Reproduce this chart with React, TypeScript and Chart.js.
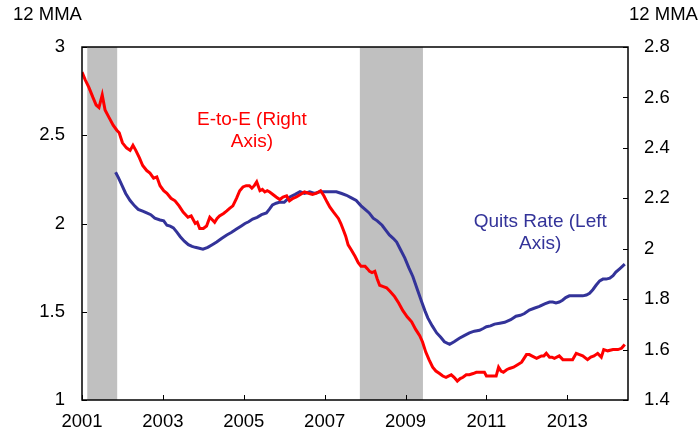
import React, { useEffect, useRef } from "react";
import { Chart, registerables } from "chart.js";

Chart.register(...registerables);

// ---- Data ----
const eteYears = [
  2001.0, 2001.08, 2001.17, 2001.27, 2001.35, 2001.42, 2001.5, 2001.57, 2001.67, 2001.77, 2001.86, 2001.92,
  2002.0, 2002.1, 2002.19, 2002.26, 2002.33, 2002.42, 2002.5, 2002.6, 2002.68, 2002.77, 2002.85, 2002.93,
  2003.02, 2003.1, 2003.2, 2003.3, 2003.4, 2003.5, 2003.62, 2003.7, 2003.8, 2003.85, 2003.91,
  2004.0, 2004.08, 2004.16, 2004.22, 2004.28, 2004.34, 2004.4, 2004.5, 2004.58, 2004.65, 2004.73, 2004.82, 2004.9, 2004.98,
  2005.06, 2005.14, 2005.2, 2005.26, 2005.32, 2005.4, 2005.46, 2005.52, 2005.58, 2005.64, 2005.72, 2005.8, 2005.89, 2005.97,
  2006.06, 2006.13, 2006.22, 2006.3, 2006.4, 2006.5, 2006.6, 2006.7, 2006.8, 2006.9, 2006.98,
  2007.06, 2007.13, 2007.22, 2007.34, 2007.4, 2007.46, 2007.52, 2007.58, 2007.66, 2007.75, 2007.83, 2007.9,
  2008.0, 2008.06, 2008.11, 2008.17, 2008.24, 2008.3, 2008.36, 2008.45, 2008.53, 2008.62, 2008.73, 2008.83, 2008.93,
  2009.04, 2009.15, 2009.25, 2009.35, 2009.42, 2009.5, 2009.58, 2009.67, 2009.75, 2009.84, 2009.92,
  2010.0, 2010.06, 2010.13, 2010.2, 2010.28, 2010.35, 2010.42, 2010.5, 2010.58, 2010.67, 2010.75, 2010.85, 2010.95,
  2011.0, 2011.1, 2011.24, 2011.3, 2011.36, 2011.42, 2011.5, 2011.57, 2011.67, 2011.77, 2011.87, 2011.93, 2011.99,
  2012.06, 2012.12, 2012.24, 2012.3, 2012.36, 2012.42, 2012.48, 2012.56, 2012.62, 2012.68, 2012.8, 2012.89,
  2013.0, 2013.13, 2013.22, 2013.3, 2013.38, 2013.5, 2013.58, 2013.66, 2013.75, 2013.84, 2013.9,
  2014.0, 2014.13, 2014.25, 2014.34, 2014.42,
];
const eteValues = [
  2.7, 2.67, 2.64, 2.6, 2.57, 2.56, 2.61, 2.55, 2.52, 2.49, 2.47, 2.46,
  2.42, 2.4, 2.39, 2.41, 2.39, 2.36, 2.33, 2.31, 2.3, 2.28, 2.285, 2.25,
  2.23, 2.22, 2.2, 2.19, 2.17, 2.145, 2.125, 2.13, 2.1, 2.105, 2.08,
  2.08, 2.09, 2.125, 2.115, 2.105, 2.12, 2.13, 2.14, 2.15, 2.16, 2.17, 2.2, 2.23, 2.245,
  2.25, 2.25, 2.24, 2.25, 2.265, 2.23, 2.235, 2.225, 2.23, 2.225, 2.215, 2.205, 2.195, 2.205,
  2.21, 2.19, 2.2, 2.205, 2.215, 2.225, 2.22, 2.215, 2.22, 2.23, 2.21,
  2.185, 2.165, 2.145, 2.12, 2.1, 2.075, 2.05, 2.015, 1.995, 1.97, 1.945, 1.93,
  1.93, 1.92, 1.91, 1.905, 1.91, 1.88, 1.855, 1.85, 1.845, 1.83, 1.81, 1.785, 1.755,
  1.73, 1.71, 1.68, 1.655, 1.63, 1.59, 1.56, 1.53, 1.515, 1.505, 1.495,
  1.49, 1.495, 1.5, 1.49, 1.475, 1.485, 1.49, 1.5, 1.5, 1.505, 1.51, 1.51, 1.51,
  1.495, 1.495, 1.495, 1.53, 1.515, 1.51, 1.52, 1.525, 1.53, 1.54, 1.55, 1.565, 1.58,
  1.58, 1.575, 1.565, 1.57, 1.575, 1.575, 1.585, 1.57, 1.57, 1.565, 1.575, 1.56,
  1.56, 1.56, 1.585, 1.58, 1.575, 1.56, 1.57, 1.575, 1.585, 1.57, 1.6,
  1.595, 1.6, 1.6, 1.605, 1.62,
];

const quitsYears = [
  2001.83, 2001.9, 2001.98, 2002.08, 2002.19, 2002.3, 2002.39, 2002.5, 2002.6, 2002.7, 2002.8, 2002.93,
  2003.02, 2003.1, 2003.18, 2003.26, 2003.35, 2003.43, 2003.53, 2003.63, 2003.72, 2003.8, 2003.9, 2003.99,
  2004.11, 2004.22, 2004.33, 2004.45, 2004.58, 2004.7, 2004.83, 2004.93,
  2005.03, 2005.12, 2005.22, 2005.33, 2005.44, 2005.56, 2005.63, 2005.71, 2005.8, 2005.88,
  2006.0, 2006.07, 2006.14, 2006.27, 2006.39, 2006.5, 2006.63, 2006.75, 2006.88,
  2007.0, 2007.15, 2007.29, 2007.42, 2007.54, 2007.66, 2007.78, 2007.9,
  2008.0, 2008.1, 2008.2, 2008.3, 2008.42, 2008.5, 2008.6, 2008.7, 2008.78, 2008.88, 2008.98,
  2009.08, 2009.18, 2009.3, 2009.4, 2009.48, 2009.55, 2009.66, 2009.77, 2009.87, 2009.96,
  2010.09, 2010.2, 2010.33, 2010.45, 2010.58, 2010.7, 2010.83, 2010.92,
  2011.0, 2011.1, 2011.2, 2011.33, 2011.45, 2011.6, 2011.73, 2011.84, 2011.94,
  2012.06, 2012.18, 2012.31, 2012.44, 2012.56, 2012.64, 2012.72, 2012.8, 2012.88, 2012.96,
  2013.05, 2013.2, 2013.38, 2013.47, 2013.55, 2013.63, 2013.71, 2013.8, 2013.88, 2013.96,
  2014.05, 2014.13, 2014.2, 2014.3, 2014.42,
];
const quitsValues = [
  2.29, 2.26, 2.22, 2.17, 2.13, 2.1, 2.08, 2.07, 2.06, 2.05, 2.03, 2.02,
  2.015, 1.99, 1.985, 1.975, 1.95, 1.925, 1.9, 1.88, 1.87, 1.865, 1.86, 1.855,
  1.865, 1.88, 1.895, 1.915, 1.935, 1.95, 1.97, 1.985,
  2.0, 2.01, 2.025, 2.035, 2.05, 2.06, 2.08, 2.105, 2.115, 2.12,
  2.12, 2.135, 2.15, 2.165, 2.18, 2.17, 2.18, 2.17, 2.18,
  2.18, 2.18, 2.18, 2.17, 2.16, 2.145, 2.13, 2.1,
  2.08, 2.06, 2.03, 2.015, 1.99, 1.965, 1.935, 1.915, 1.895, 1.85, 1.805,
  1.75, 1.7, 1.62, 1.555, 1.505, 1.465, 1.42, 1.38, 1.355, 1.33,
  1.315, 1.33, 1.35, 1.365, 1.38, 1.39, 1.395, 1.405,
  1.415, 1.42, 1.43, 1.435, 1.44, 1.455, 1.475, 1.48, 1.49,
  1.51, 1.52, 1.53, 1.545, 1.555, 1.555, 1.55, 1.555, 1.565, 1.58,
  1.59, 1.59, 1.59, 1.595, 1.605, 1.625, 1.65, 1.675, 1.685, 1.685,
  1.69, 1.705, 1.725, 1.745, 1.77,
];

const recessionStarts = [2001.13, 2007.87];
const recessionEnds = [2001.87, 2009.43];

const xTicks = [2001, 2003, 2005, 2007, 2009, 2011, 2013];
const leftTicks = [1, 1.5, 2, 2.5, 3];
const rightTicks = [1.4, 1.6, 1.8, 2, 2.2, 2.4, 2.6, 2.8];

const eteLabel = ["E-to-E (Right", "Axis)"];
const quitsLabel = ["Quits Rate (Left", "Axis)"];
const unitLabel = "12 MMA";

const RED = "#FF0000";
const BLUE = "#333399";
const FONT = "'Liberation Sans', Arial, sans-serif";

const fmt = (v: number) => String(Number(v.toFixed(1)));

const framePlugin = {
  id: "frame",
  beforeDatasetsDraw(chart: any) {
    const { ctx, chartArea, scales } = chart;
    const x = scales.x;
    ctx.save();
    ctx.fillStyle = "#C0C0C0";
    for (let i = 0; i < recessionStarts.length; i++) {
      const a = x.getPixelForValue(recessionStarts[i]);
      const b = x.getPixelForValue(recessionEnds[i]);
      ctx.fillRect(a, chartArea.top, b - a, chartArea.bottom - chartArea.top);
    }
    ctx.restore();
  },
  afterDatasetsDraw(chart: any) {
    const { ctx, chartArea, scales } = chart;
    const { left, right, top, bottom } = chartArea;
    ctx.save();
    // tick marks (inward)
    ctx.strokeStyle = "#000";
    ctx.lineWidth = 1;
    const tl = 5;
    ctx.beginPath();
    xTicks.forEach((v) => {
      const px = Math.round(scales.x.getPixelForValue(v)) + 0.5;
      ctx.moveTo(px, bottom);
      ctx.lineTo(px, bottom - tl);
    });
    leftTicks.forEach((v) => {
      const py = Math.round(scales.yL.getPixelForValue(v)) + 0.5;
      ctx.moveTo(left, py);
      ctx.lineTo(left + tl, py);
    });
    rightTicks.forEach((v) => {
      const py = Math.round(scales.yR.getPixelForValue(v)) + 0.5;
      ctx.moveTo(right, py);
      ctx.lineTo(right - tl, py);
    });
    ctx.stroke();
    // frame
    ctx.lineWidth = 1.5;
    ctx.strokeRect(left, top, right - left, bottom - top);

    // annotations
    ctx.textAlign = "center";
    ctx.textBaseline = "middle";
    ctx.font = `19px ${FONT}`;
    ctx.fillStyle = RED;
    const ex = scales.x.getPixelForValue(2005.2);
    const ey = scales.yR.getPixelForValue(2.51);
    eteLabel.forEach((t, i) => ctx.fillText(t, ex, ey + i * 22));
    ctx.fillStyle = BLUE;
    const qx = scales.x.getPixelForValue(2012.33);
    const qy = scales.yL.getPixelForValue(2.01);
    quitsLabel.forEach((t, i) => ctx.fillText(t, qx, qy + i * 22));

    // unit labels
    ctx.fillStyle = "#000";
    ctx.font = `18.5px ${FONT}`;
    ctx.textAlign = "left";
    ctx.fillText(unitLabel, 13, 15);
    ctx.fillText(unitLabel, right + 1, 15);
    ctx.restore();
  },
};

export default function App() {
  const ref = useRef<HTMLCanvasElement | null>(null);
  useEffect(() => {
    document.body.style.margin = "0";
    if (!ref.current) return;
    const tickFont = { family: FONT, size: 18.5 };
    const chart = new Chart(ref.current, {
      type: "line",
      data: {
        datasets: [
          {
            label: "E-to-E (Right Axis)",
            data: eteYears.map((x, i) => ({ x, y: eteValues[i] })),
            borderColor: RED,
            borderWidth: 3,
            pointRadius: 0,
            tension: 0,
            yAxisID: "yR",
          },
          {
            label: "Quits Rate (Left Axis)",
            data: quitsYears.map((x, i) => ({ x, y: quitsValues[i] })),
            borderColor: BLUE,
            borderWidth: 3,
            pointRadius: 0,
            tension: 0,
            yAxisID: "yL",
          },
        ],
      },
      options: {
        animation: false,
        responsive: true,
        maintainAspectRatio: false,
        layout: { padding: { top: 47, left: 0, right: 0, bottom: 0 } },
        plugins: { legend: { display: false }, tooltip: { enabled: false } },
        scales: {
          x: {
            type: "linear",
            position: "bottom",
            min: 2001,
            max: 2014.5,
            grid: { display: false, drawTicks: false },
            border: { display: false },
            ticks: { color: "#000", font: tickFont, padding: 11, maxRotation: 0, autoSkip: false, callback: (v: any) => String(v) },
            afterBuildTicks: (s: any) => {
              s.ticks = xTicks.map((value) => ({ value }));
            },
            afterFit: (s: any) => {
              s.height = 35;
            },
          },
          yL: {
            type: "linear",
            position: "left",
            min: 1,
            max: 3,
            grid: { display: false, drawTicks: false },
            border: { display: false },
            ticks: { color: "#000", font: tickFont, padding: 17, callback: (v: any) => fmt(Number(v)) },
            afterBuildTicks: (s: any) => {
              s.ticks = leftTicks.map((value) => ({ value }));
            },
            afterFit: (s: any) => {
              s.width = 82;
            },
          },
          yR: {
            type: "linear",
            position: "right",
            min: 1.4,
            max: 2.8,
            grid: { display: false, drawTicks: false },
            border: { display: false },
            ticks: { color: "#000", font: tickFont, padding: 16, callback: (v: any) => fmt(Number(v)) },
            afterBuildTicks: (s: any) => {
              s.ticks = rightTicks.map((value) => ({ value }));
            },
            afterFit: (s: any) => {
              s.width = 71;
            },
          },
        },
      },
      plugins: [framePlugin],
    } as any);
    return () => chart.destroy();
  }, []);
  return (
    <div style={{ position: "absolute", left: 0, top: 0, width: 699, height: 435 }}>
      <canvas ref={ref} />
    </div>
  );
}
